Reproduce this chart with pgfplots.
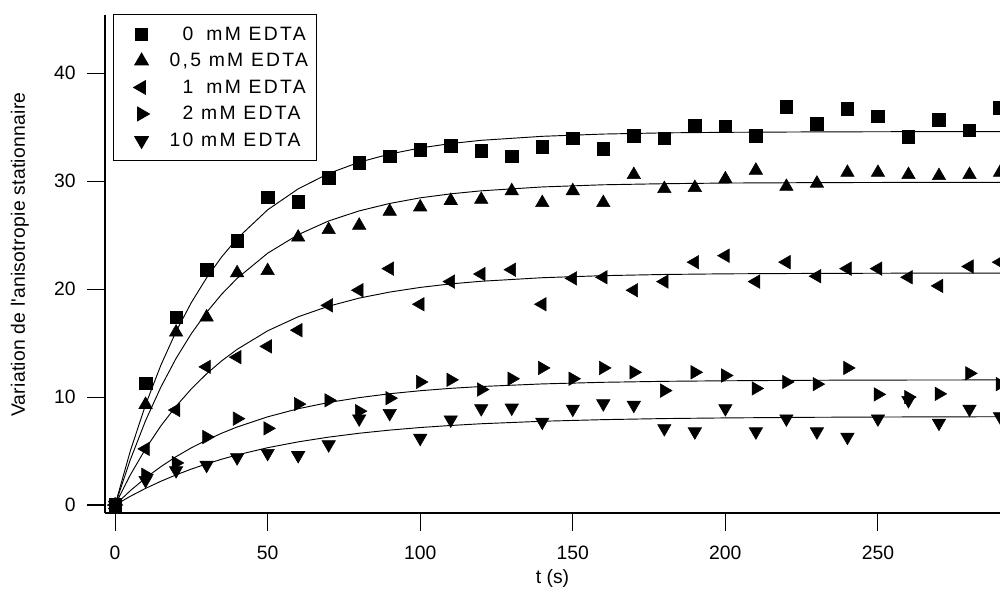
\documentclass[border=0pt]{standalone}
\usepackage{fontspec}
\setmainfont{Liberation Sans}
\newfontfamily\legfont{Liberation Sans}[LetterSpace=12]
\newfontfamily\labfont{Liberation Sans}[LetterSpace=1.5]
\usepackage{pgfplots}
\pgfplotsset{compat=1.18}
\newlength{\nw}
\begin{document}%
\settowidth{\nw}{\fontsize{14.5}{17}\legfont\selectfont 10}%
\begin{tikzpicture}
\begin{axis}[
  scale only axis,
  width=671.25pt, height=373.5pt,
  at={(0,0)}, anchor=south west,
  xmin=-3.3, xmax=290, ymin=-0.74, ymax=45.4,
  axis x line=bottom, axis y line=left,
  axis line style={-, line width=0.8pt},
  tick align=outside,
  xtick={0,50,100,150,200,250}, ytick={0,10,20,30,40},
  major tick length=13.5pt,
  tick style={line width=0.8pt, black},
  /pgf/number format/assume math mode=true,
  font=\fontsize{14.5}{17}\selectfont,
  xticklabel style={yshift=-8pt},
  yticklabel style={xshift=-5pt},
  xlabel={t (s)}, ylabel={Variation de l\textquotesingle anisotropie stationnaire},
  xlabel style={yshift=0pt},
  ylabel style={yshift=12pt, xshift=7pt, font=\fontsize{14.5}{17}\labfont\selectfont},
  clip=false,
  legend image code/.code={\path[draw=none, fill=none] (0pt,0pt) -- (34pt,0pt); \draw[#1] plot coordinates {(17pt,0pt)};},
  legend style={at={(rel axis cs:0.009,1.003)}, anchor=north west, draw=black, line width=0.8pt,
     font=\fontsize{14.5}{17}\legfont\selectfont, row sep=4.3pt, column sep=2pt,
     inner xsep=4pt, inner ysep=7.5pt, cells={anchor=west}},
  legend cell align=left,
]
\addplot[only marks, mark=square*, mark size=4.7pt, black] table {
0 0
10 11.3
20 17.4
30 21.8
40 24.5
50 28.5
60 28.1
70 30.3
80 31.7
90 32.3
100 32.9
110 33.3
120 32.8
130 32.3
140 33.2
150 34.0
160 33.0
170 34.2
180 34.0
190 35.2
200 35.1
210 34.2
220 36.9
230 35.3
240 36.7
250 36.0
260 34.1
270 35.7
280 34.7
290 36.8
};
\addlegendentry{\makebox[\nw][r]{0}\hphantom{,}\ mM EDTA}
\addplot[only marks, mark=triangle*, mark size=5.8pt, black] table {
0 0
10 9.3
20 16.0
30 17.4
40 21.5
50 21.7
60 24.8
70 25.5
80 25.9
90 27.2
100 27.6
110 28.2
120 28.3
130 29.1
140 28.0
150 29.1
160 28.0
170 30.6
180 29.3
190 29.4
200 30.2
210 31.0
220 29.5
230 29.8
240 30.8
250 30.8
260 30.6
270 30.5
280 30.6
290 30.8
};
\addlegendentry{0,5 mM EDTA}
\addplot[only marks, mark=triangle*, mark size=5.8pt, mark options={rotate=90}, black] table {
0 0
10 5.2
20 8.8
30 12.8
40 13.7
50 14.7
60 16.2
70 18.5
80 19.9
90 21.9
100 18.6
110 20.7
120 21.4
130 21.8
140 18.6
150 21.0
160 21.1
170 19.9
180 20.7
190 22.5
200 23.1
210 20.7
220 22.5
230 21.2
240 21.9
250 21.9
260 21.1
270 20.3
280 22.1
290 22.5
};
\addlegendentry{\makebox[\nw][r]{1}\hphantom{,}\ mM EDTA}
\addplot[only marks, mark=triangle*, mark size=5.8pt, mark options={rotate=-90}, black] table {
0 0
10 2.8
20 3.9
30 6.3
40 8.0
50 7.1
60 9.35
70 9.7
80 8.7
90 9.9
100 11.4
110 11.6
120 10.7
130 11.7
140 12.7
150 11.7
160 12.7
170 12.3
180 10.6
190 12.3
200 12.0
210 10.8
220 11.4
230 11.2
240 12.7
250 10.25
260 10.0
270 10.3
280 12.2
290 11.2
};
\addlegendentry{\makebox[\nw][r]{2}\ mM EDTA}
\addplot[only marks, mark=triangle*, mark size=5.8pt, mark options={rotate=180}, black] table {
0 0
10 2.3
20 3.2
30 3.7
40 4.4
50 4.8
60 4.6
70 5.6
80 8.0
90 8.5
100 6.2
110 7.9
120 8.95
130 9.0
140 7.7
150 8.9
160 9.4
170 9.26
180 7.1
190 6.8
200 8.95
210 6.8
220 8.0
230 6.8
240 6.3
250 8.0
260 9.7
270 7.6
280 8.9
290 8.2
};
\addlegendentry{10\ mM EDTA}
% fitted curves
\addplot[black, line width=0.7pt, forget plot] table {
0 0
5 5.01
10 9.29
15 12.95
20 16.08
25 18.76
30 21.05
35 23.01
40 24.69
50 27.35
60 29.29
70 30.72
80 31.76
90 32.52
100 33.08
110 33.49
120 33.79
140 34.16
160 34.37
180 34.48
200 34.53
230 34.57
260 34.59
290 34.60
};
\addplot[black, line width=0.7pt, forget plot] table {
0 0
5 4.20
10 7.82
15 10.92
20 13.59
25 15.88
30 17.85
35 19.55
40 21.00
50 23.33
60 25.05
70 26.32
80 27.25
90 27.94
100 28.46
110 28.83
120 29.11
140 29.47
160 29.67
180 29.77
200 29.83
230 29.87
260 29.89
290 29.90
};
\addplot[black, line width=0.7pt, forget plot] table {
0 0
5 2.79
10 5.21
15 7.33
20 9.16
25 10.76
30 12.16
35 13.37
40 14.42
50 16.14
60 17.44
70 18.42
80 19.17
90 19.73
100 20.16
110 20.49
120 20.73
140 21.06
160 21.25
180 21.36
200 21.42
230 21.46
260 21.48
290 21.49
};
\addplot[black, line width=0.7pt, forget plot] table {
0 0
5 1.33
10 2.51
15 3.55
20 4.48
25 5.30
30 6.02
35 6.66
40 7.23
50 8.17
60 8.92
70 9.50
80 9.95
90 10.31
100 10.59
110 10.81
120 10.98
140 11.22
160 11.37
180 11.46
200 11.51
230 11.56
260 11.58
290 11.59
};
\addplot[black, line width=0.7pt, forget plot] table {
0 0
5 0.81
10 1.54
15 2.20
20 2.79
25 3.33
30 3.81
35 4.25
40 4.64
50 5.31
60 5.85
70 6.29
80 6.65
90 6.94
100 7.18
110 7.37
120 7.53
140 7.76
160 7.91
180 8.01
200 8.07
230 8.13
260 8.16
290 8.18
};
\end{axis}
\pgfresetboundingbox
\path[use as bounding box] (-78.75pt,-60.75pt) rectangle (671.25pt,384.75pt);
\end{tikzpicture}%
\end{document}
